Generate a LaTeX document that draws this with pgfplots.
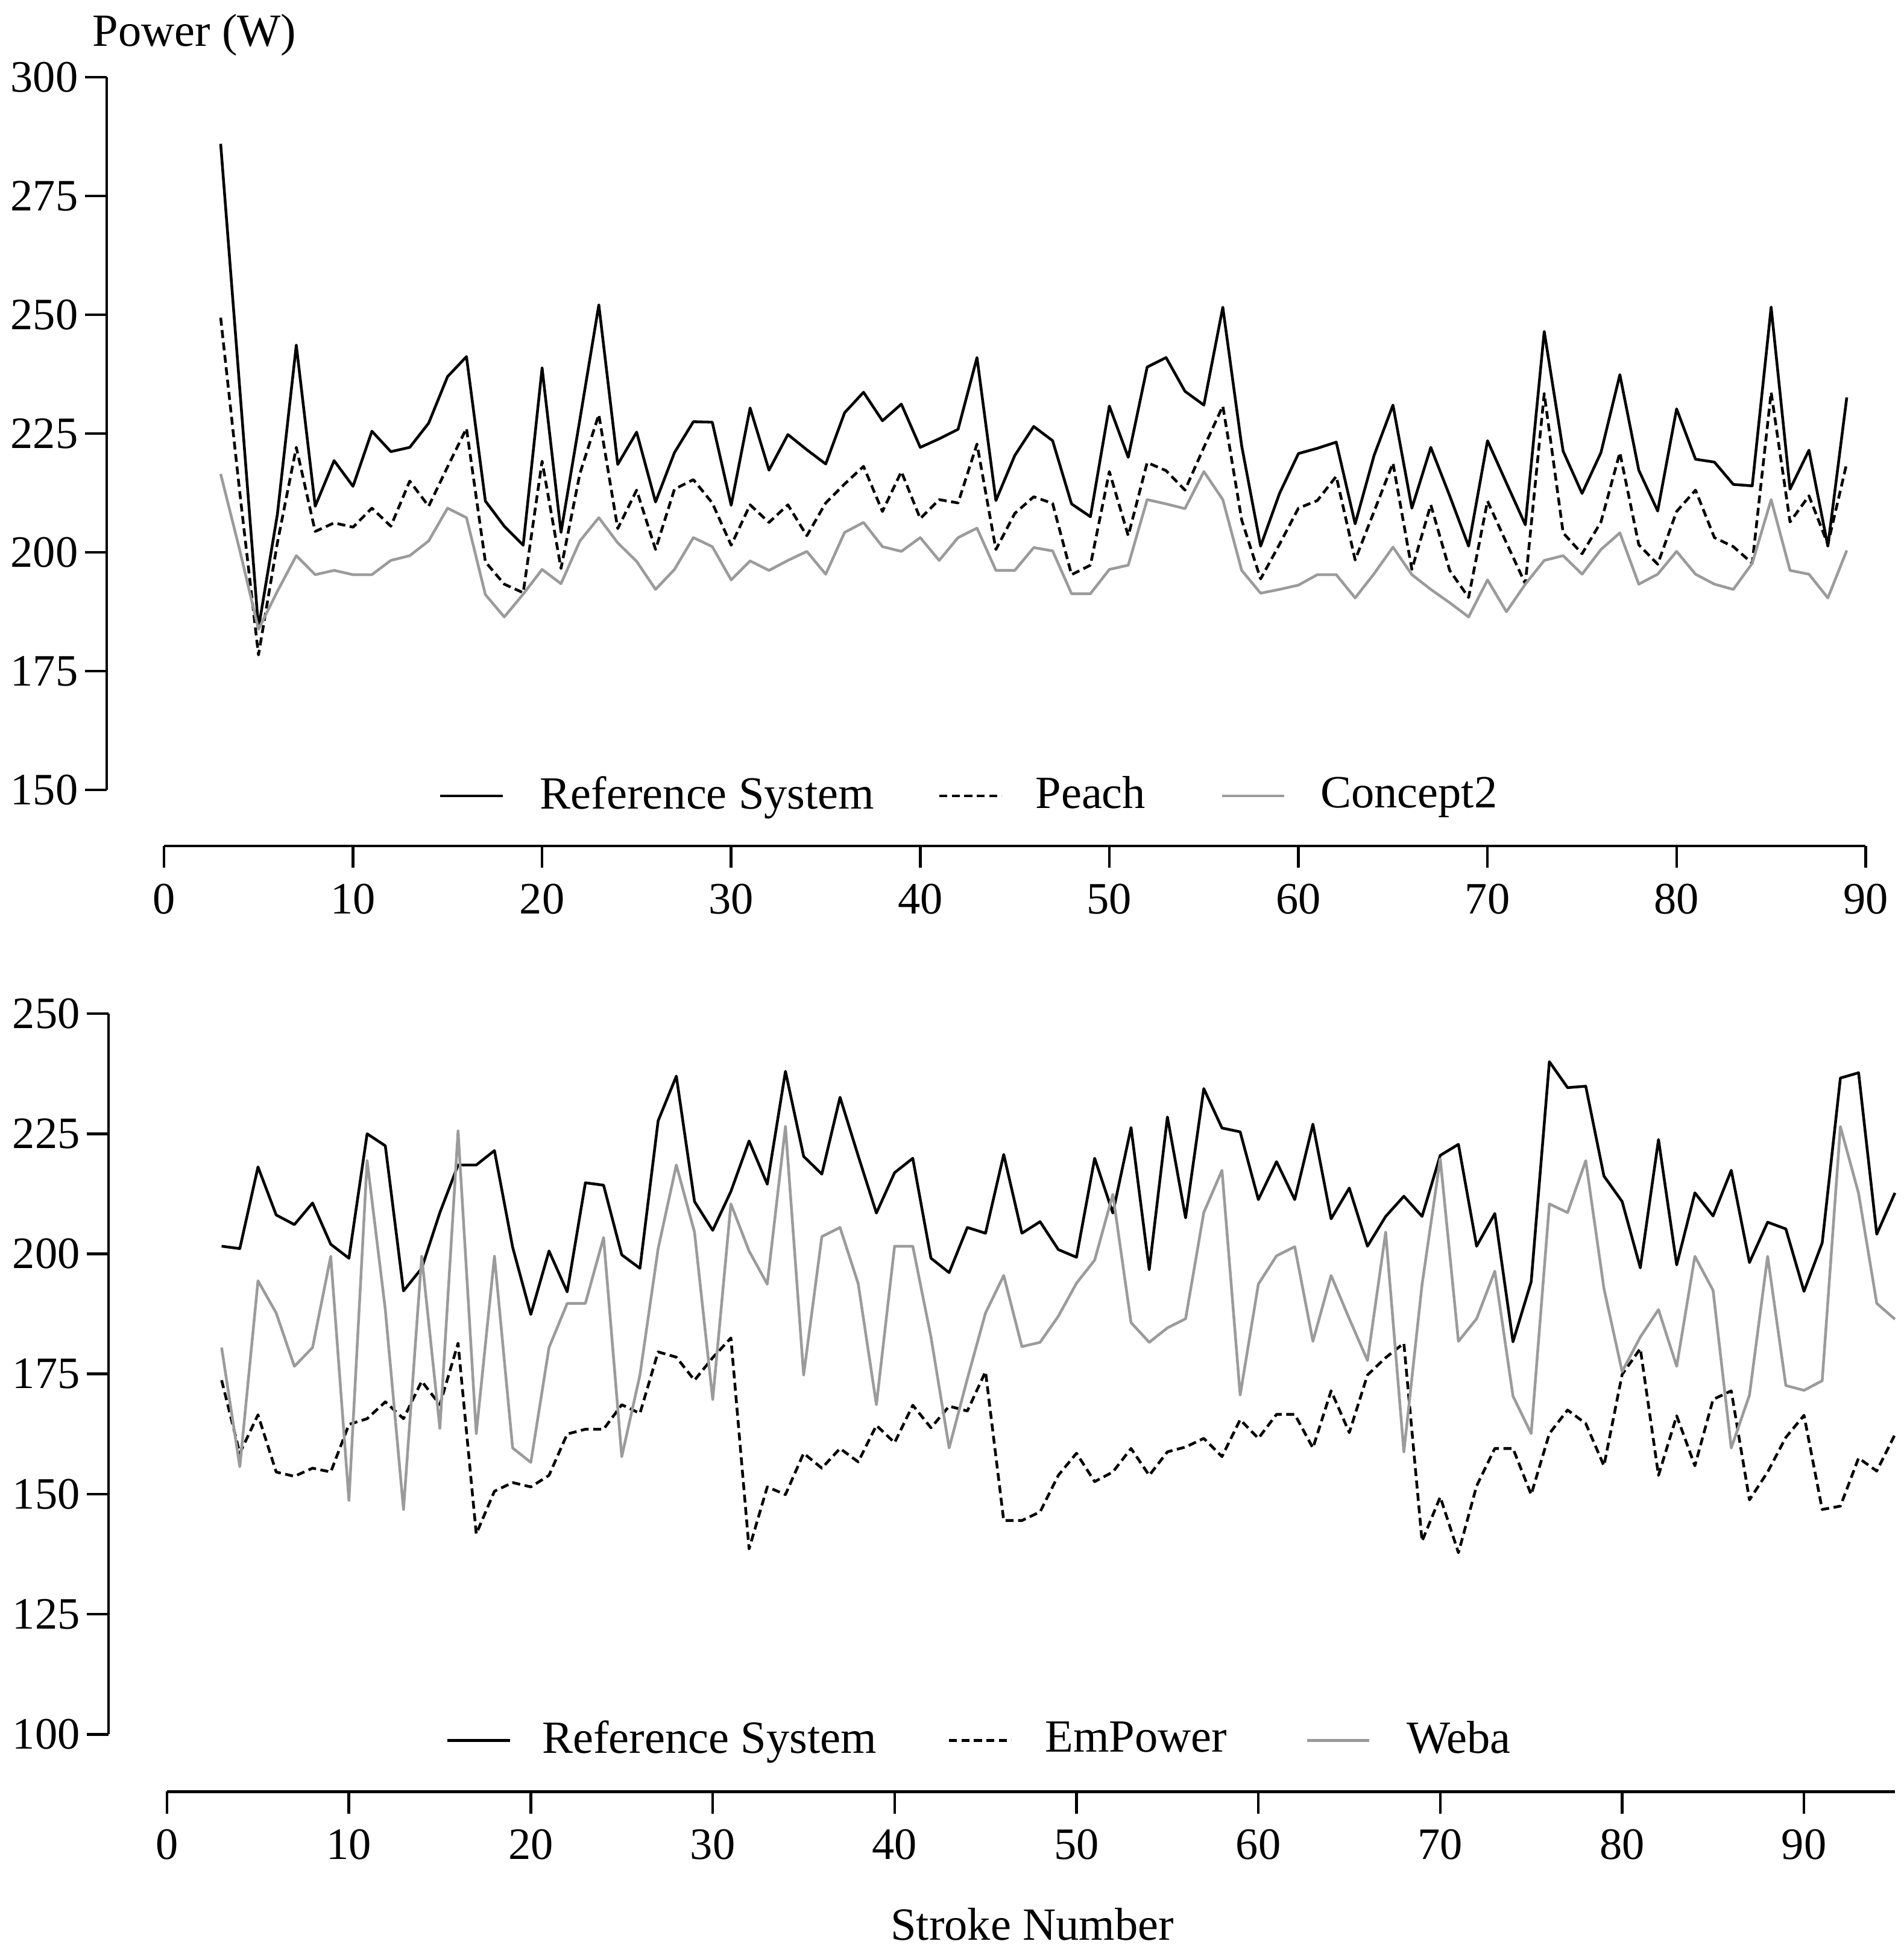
\documentclass[border=0pt]{standalone}
\usepackage{fontspec}
\setmainfont{Liberation Serif}
\usepackage{pgfplots}
\usepackage{pgfplotstable}
\pgfplotsset{compat=1.18}
\definecolor{lgray}{RGB}{155,155,155}

\pgfplotstableread{
n ref peach ctwo
3 286 249.4 216.5
4 235 213 200.6
5 184 178.4 183.8
6 208 202 191.8
7 243.6 222.1 199.3
8 209.7 204.4 195.3
9 219.3 206.2 196.2
10 213.9 205.3 195.3
11 225.5 209.3 195.3
12 221.2 205.5 198.3
13 222.1 215 199.3
14 227.2 209.7 202.4
15 237 218 209.3
16 241.2 226.1 207.3
17 210.8 198 191.1
18 205.5 193.3 186.4
19 201.5 191.5 191.2
20 238.8 219.2 196.4
21 204.2 196.6 193.4
22 228 216.6 202.4
23 252.1 229 207.3
24 218.5 205 202
25 225.3 213.1 198.1
26 210.6 200.6 192.2
27 221 213.3 196.4
28 227.5 215.3 203.1
29 227.4 210.4 201.2
30 209.9 201.5 194.2
31 230.4 210 198.2
32 217.3 206.3 196.2
33 224.8 210 198.3
34 221.6 203.5 200.2
35 218.6 210.4 195.4
36 229.4 214.4 204.2
37 233.7 218.1 206.3
38 227.7 208.6 201.2
39 231.2 217 200.2
40 222.1 207.1 203.1
41 223.9 211.1 198.3
42 225.9 210.4 203.1
43 241 222.8 205.1
44 210.9 200.6 196.2
45 220.4 208.2 196.2
46 226.5 211.7 201
47 223.5 210.3 200.3
48 210.2 195.3 191.3
49 207.5 197.3 191.3
50 230.8 217 196.4
51 220 203.5 197.3
52 239 218.9 211.1
53 241 217.2 210.2
54 233.9 213.1 209.2
55 231 222.1 217
56 251.6 230.8 211.1
57 222.4 206.8 196.2
58 201.3 194.4 191.4
59 212.4 201.7 192.2
60 220.8 209.3 193.1
61 221.9 210.9 195.3
62 223.2 216 195.3
63 206 198.4 190.4
64 220.4 208.6 195.5
65 231 218.8 201.1
66 209.3 196.4 195.3
67 222.1 210 192.2
68 211.9 196.2 189.4
69 201.3 190.5 186.4
70 223.5 210.8 194.2
71 214.6 202 187.5
72 205.8 193.4 193.3
73 246.5 233.4 198.3
74 221.3 204.1 199.3
75 212.4 199.7 195.4
76 221 206.4 200.6
77 237.4 221 204.1
78 217.3 201.6 193.3
79 208.7 197.5 195.4
80 230.2 208.6 200.2
81 219.6 213.1 195.4
82 219 203.1 193.3
83 214.3 201.2 192.2
84 214 197.7 197.7
85 251.6 233.7 211.1
86 213.3 206.4 196.2
87 221.5 211.9 195.4
88 201.3 201.7 190.4
89 232.6 218.8 200.4
}\toptable

\pgfplotstableread{
n ref emp weba
3 201.6 173.7 180.5
4 201.1 158.5 155.7
5 218.1 166.5 194.4
6 208.1 154.6 187.7
7 206.1 153.7 176.6
8 210.6 155.4 180.5
9 202 154.6 199.5
10 199.1 164.5 148.7
11 225 165.7 219.4
12 222.5 169.2 188.4
13 192.3 165.7 146.8
14 197 173.5 199.5
15 208.6 168.6 163.7
16 218.5 181.4 225.6
17 218.5 141.7 162.6
18 221.5 150.6 199.5
19 201.4 152.4 159.6
20 187.4 151.5 156.6
21 200.6 153.9 180.5
22 192.1 162.5 189.7
23 214.8 163.5 189.7
24 214.3 163.5 203.4
25 199.8 168.6 157.8
26 197 166.8 174.8
27 227.7 179.6 201.1
28 237 178.5 218.5
29 210.9 173.7 204.5
30 204.9 178.4 169.7
31 213 182.5 210.4
32 223.5 138.6 200.6
33 214.5 151.5 193.7
34 238 149.9 226.5
35 220.3 158.5 174.8
36 216.6 155.4 203.6
37 232.6 159.5 205.5
38 220.4 156.7 193.8
39 208.5 164.3 168.6
40 216.9 160.7 201.6
41 219.9 168.5 201.6
42 199.1 163.8 182.7
43 196.1 168.3 159.6
44 205.5 167.3 174
45 204.3 175.5 187.7
46 220.7 144.5 195.5
47 204.3 144.5 180.7
48 206.7 146.3 181.6
49 200.9 153.9 187
50 199.3 158.5 193.9
51 219.9 152.6 198.7
52 208.5 154.6 212.4
53 226.3 159.5 185.7
54 196.7 153.9 181.6
55 228.5 158.8 184.6
56 207.5 159.8 186.5
57 234.4 161.6 208.6
58 226.2 157.8 217.4
59 225.4 165.5 170.6
60 211.3 161.6 193.7
61 219.2 166.6 199.6
62 211.3 166.6 201.5
63 227 159.6 181.8
64 207.3 171.5 195.5
65 213.7 162.8 186.5
66 201.6 174.8 177.8
67 207.8 178.4 204.5
68 212 181.4 158.8
69 207.8 140.2 193.6
70 220.5 149.4 219.8
71 222.8 137.8 181.8
72 201.6 151.7 186.5
73 208.4 159.5 196.4
74 181.7 159.5 170.4
75 194.2 149.9 162.6
76 240 162.6 210.4
77 234.6 167.5 208.6
78 234.9 164.7 219.4
79 216.2 155.9 192.8
80 210.9 174.9 175.5
81 197.1 180.3 182.7
82 223.8 153.9 188.4
83 197.7 166.3 176.6
84 212.7 155.9 199.5
85 207.9 169.7 192.4
86 217.4 171.5 159.6
87 198.2 148.8 170.6
88 206.6 154.6 199.5
89 205.2 161.8 172.6
90 192.2 166.4 171.6
91 202.3 146.8 173.6
92 236.6 147.5 226.5
93 237.7 157.5 212.6
94 204.1 154.8 189.7
95 212.7 162.4 186.4
}\bottable

\pgfplotsset{
  prism/.style={
    scale only axis,
    axis x line*=bottom,
    axis y line*=left,
    tick align=outside,
    major tick length=8.75pt,
    axis line style={line width=1.1pt, black},
    every tick/.style={black, line width=1.1pt},
    tick label style={font=\fontsize{18}{20}\selectfont},
    yticklabel style={inner xsep=2.5pt},
    /pgf/number format/assume math mode=true,
    clip=false,
    legend image code/.code={\draw[##1] (0pt,0pt) -- (25pt,0pt);},
    legend style={draw=none, fill=none, legend columns=3,
      font=\fontsize{18.5}{22}\selectfont, anchor=center},
  },
  sref/.style={black, line width=1.1pt, line join=round},
  sdash/.style={black, line width=1.1pt, dash pattern=on 3.2pt off 1.8pt, line join=round},
  sgray/.style={lgray, line width=1.1pt, line join=round},
}

\begin{document}
\fontsize{18.5}{22}\selectfont
\begin{tikzpicture}
\path[use as bounding box] (0pt,0pt) rectangle (763.5pt,-782pt);

\begin{axis}[prism,
  at={(65.75pt,-316.75pt)}, anchor=south west,
  width=682.5pt, height=285.75pt,
  xmin=0, xmax=90, ymin=150, ymax=300,
  xtick={0,10,...,90}, ytick={150,175,...,300},
  axis x line shift=22.5pt, axis y line shift=23pt,
  legend style={at={(0.474,-0.0085)},
    /tikz/column 1/.style={column sep=12.5pt},
    /tikz/column 2/.style={column sep=23.5pt},
    /tikz/column 3/.style={column sep=11pt},
    /tikz/column 4/.style={column sep=28pt},
    /tikz/column 5/.style={column sep=12pt}},
]
\addplot[sref] table[x=n, y=ref] {\toptable};
\addlegendentry{Reference System}
\addplot[sdash] table[x=n, y=peach] {\toptable};
\addlegendentry{Peach}
\addplot[sgray] table[x=n, y=ctwo] {\toptable};
\addlegendentry{Concept2}
\end{axis}

\begin{axis}[prism,
  at={(67pt,-695.5pt)}, anchor=south west,
  width=693pt, height=289pt,
  xmin=0, xmax=95, ymin=100, ymax=250,
  xtick={0,10,...,90}, ytick={100,125,...,250},
  axis x line shift=23pt, axis y line shift=23.5pt,
  legend style={at={(0.471,-0.0083)},
    /tikz/column 1/.style={column sep=10.5pt},
    /tikz/column 2/.style={column sep=26.5pt},
    /tikz/column 3/.style={column sep=11pt},
    /tikz/column 4/.style={column sep=29.5pt},
    /tikz/column 5/.style={column sep=12.5pt}},
]
\addplot[sref] table[x=n, y=ref] {\bottable};
\addlegendentry{Reference System}
\addplot[sdash] table[x=n, y=emp] {\bottable};
\addlegendentry{EmPower}
\addplot[sgray] table[x=n, y=weba] {\bottable};
\addlegendentry{Weba}
\end{axis}

\node[anchor=base, inner sep=0pt] at (78pt,-18.5pt) {Power (W)};
\node[anchor=base, inner sep=0pt] at (414pt,-778pt) {Stroke Number};
\end{tikzpicture}
\end{document}
